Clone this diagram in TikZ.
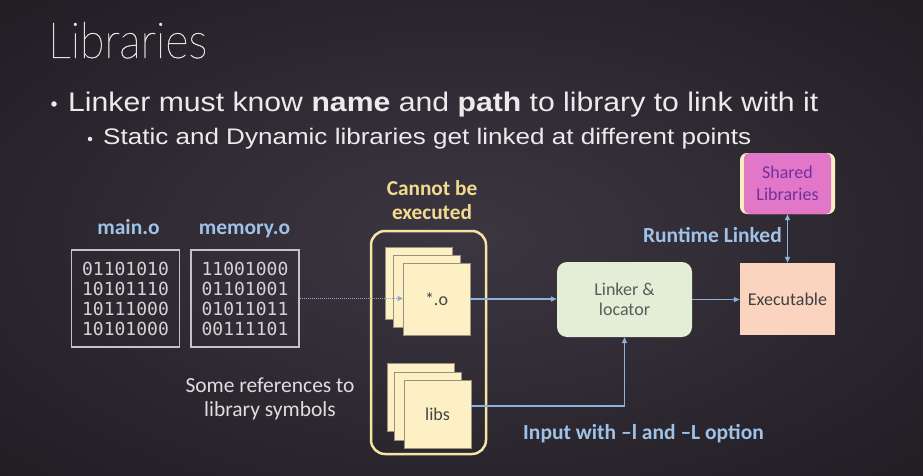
\documentclass[tikz,border=0pt]{standalone}
\usepackage{fontspec}
\usepackage{graphicx}
\usetikzlibrary{arrows.meta}
\setmainfont{Liberation Sans}
\newfontfamily\thinfont{Lato Hairline}[AutoFakeBold=0.9]
\newfontfamily\calib{Carlito}
\newfontfamily\binfont{DejaVu Sans Mono}

\definecolor{bginner}{HTML}{3C3641}
\definecolor{bgmid}{HTML}{2C272F}
\definecolor{bgouter}{HTML}{141115}
\definecolor{bodytext}{HTML}{EBEBEB}
\definecolor{titletext}{HTML}{E4E4E4}
\definecolor{labelblue}{HTML}{9EC2E8}
\definecolor{flowblue}{HTML}{8EB2DC}
\definecolor{gold}{HTML}{F1DB8E}
\definecolor{groupline}{HTML}{F5E4A2}
\definecolor{paper}{HTML}{FDF0C4}
\definecolor{paperline}{HTML}{9A927A}
\definecolor{papertext}{HTML}{454545}
\definecolor{linkerfill}{HTML}{E2EFD6}
\definecolor{linkertext}{HTML}{5A5A5A}
\definecolor{execfill}{HTML}{FAD4BF}
\definecolor{exectext}{HTML}{3F3F3F}
\definecolor{sharedfill}{HTML}{E277C8}
\definecolor{sharededge}{HTML}{FBEFC2}
\definecolor{sharedtext}{HTML}{7030A0}
\definecolor{boxline}{HTML}{C4C4C4}
\definecolor{bintext}{HTML}{D4D4D4}
\definecolor{notetext}{HTML}{DEDEDE}

\pgfdeclareradialshading{slidebg}{\pgfpoint{0bp}{0bp}}{%
  color(0bp)=(bginner); color(22bp)=(bgmid); color(52bp)=(bgouter)}

\begin{document}
\begin{tikzpicture}[x=1pt,y=-1pt,
  binbox/.style={draw=boxline, line width=1.3pt, minimum width=108pt,
    minimum height=97pt, inner sep=0pt, text=bintext, align=left,
    font=\binfont\fontsize{18pt}{20pt}\selectfont},
  paperbox/.style={draw=paperline, line width=0.6pt, fill=paper,
    minimum width=67pt, inner sep=0pt, text=papertext,
    font=\calib\fontsize{18pt}{20pt}\selectfont},
  bluelabel/.style={text=labelblue, inner sep=0pt,
    font=\calib\bfseries\fontsize{21.5pt}{24pt}\selectfont},
  flow/.style={draw=flowblue, line width=1.5pt,
    -{Triangle[length=6pt,width=5pt]}},
  dotflow/.style={draw=flowblue!85!gray, line width=1pt,
    dash pattern=on 1pt off 1pt, -{Triangle[length=5pt,width=5pt]}},
  bulletdot/.style={circle, fill=bodytext, inner sep=0pt}
]
\useasboundingbox (0,0) rectangle (923,476);
\shade[shading=slidebg] (0,0) rectangle (923,476);

% heading and bullet points
\node[anchor=base west, inner sep=0pt, text=titletext] (title) at (48,58)
  {\resizebox{159pt}{36pt}{\thinfont\bfseries Libraries}};
\node[bulletdot, minimum size=5.5pt] (dot1) at (54,104) {};
\node[anchor=base west, inner sep=0pt, text=bodytext] (line1) at (68,112)
  {\resizebox{750pt}{19.5pt}{Linker must know \textbf{name} and \textbf{path} to library to link with it}};
\node[bulletdot, minimum size=4.5pt] (dot2) at (90,139) {};
\node[anchor=base west, inner sep=0pt, text=bodytext] (line2) at (103,144)
  {\resizebox{648pt}{16.3pt}{Static and Dynamic libraries get linked at different points}};

% object files
\node[bluelabel, anchor=base] (mainlabel) at (128.5,234) {main.o};
\node[bluelabel, anchor=base] (memlabel) at (244.5,234) {memory.o};
\node[binbox] (mainbox) at (125.5,298.5) {01101010\\10101110\\10111000\\10101000};
\node[binbox] (membox) at (245,298.5) {11001000\\01101001\\01011011\\00111101};
\node[text=notetext, align=center, inner sep=0pt,
  font=\calib\fontsize{21.5pt}{23.5pt}\selectfont] (refs) at (270,399)
  {Some references to\\library symbols};

% inputs that cannot be executed
\node[text=gold, align=center, inner sep=0pt,
  font=\calib\bfseries\fontsize{21.3pt}{24pt}\selectfont] (cannot) at (432,200)
  {Cannot be\\executed};
\node[draw=groupline, line width=2.5pt, rounded corners=14pt,
  minimum width=115pt, minimum height=223pt] (group) at (428.5,342.5) {};

\node[paperbox, minimum height=72pt] (objc) at (418.5,283) {};
\node[paperbox, minimum height=72pt] (objb) at (426.5,291) {};
\node[paperbox, minimum height=72pt] (obj) at (436.5,299) {*.o};

\node[paperbox, minimum height=68pt] (libsc) at (420.5,397) {};
\node[paperbox, minimum height=68pt] (libsb) at (427.5,406) {};
\node[paperbox, minimum height=68pt] (libs) at (437.5,414) {libs};

% linker and its output
\node[fill=linkerfill, rounded corners=10pt, minimum width=135pt,
  minimum height=75pt, align=center, text=linkertext,
  font=\calib\fontsize{18pt}{20pt}\selectfont] (linker) at (624.5,299.5)
  {Linker \&\\locator};
\node[fill=execfill, minimum width=95pt, minimum height=72pt,
  text=exectext, font=\calib\fontsize{18pt}{20pt}\selectfont] (exec) at (787.5,299)
  {Executable};
\node[fill=sharededge, rounded corners=7pt, minimum width=95pt,
  minimum height=61pt] (sharedback) at (787.5,183.5) {};
\node[fill=sharedfill, rounded corners=5pt, minimum width=87pt,
  minimum height=61pt, align=center, text=sharedtext,
  font=\calib\fontsize{18pt}{22pt}\selectfont] (shared) at (787.5,183.5)
  {Shared\\Libraries};

\node[bluelabel, anchor=base east] (runtime) at (782,242) {Runtime Linked};
\node[bluelabel, anchor=base] (inputopt) at (643.5,439) {Input with \textendash l and \textendash L option};

% connectors
\draw[dotflow] (membox.east) -- (obj.west |- membox.east);
\draw[flow] (obj.east) -- (linker.west |- obj.east);
\draw[flow] ([yshift=8pt]libs.east) -| (linker.south);
\draw[flow] (linker.east) -- (exec.west |- linker.east);
\draw[draw=flowblue, line width=1.5pt,
  {Triangle[length=6pt,width=5pt]}-{Triangle[length=6pt,width=5pt]}]
  (shared.south) -- (exec.north);
\end{tikzpicture}
\end{document}
